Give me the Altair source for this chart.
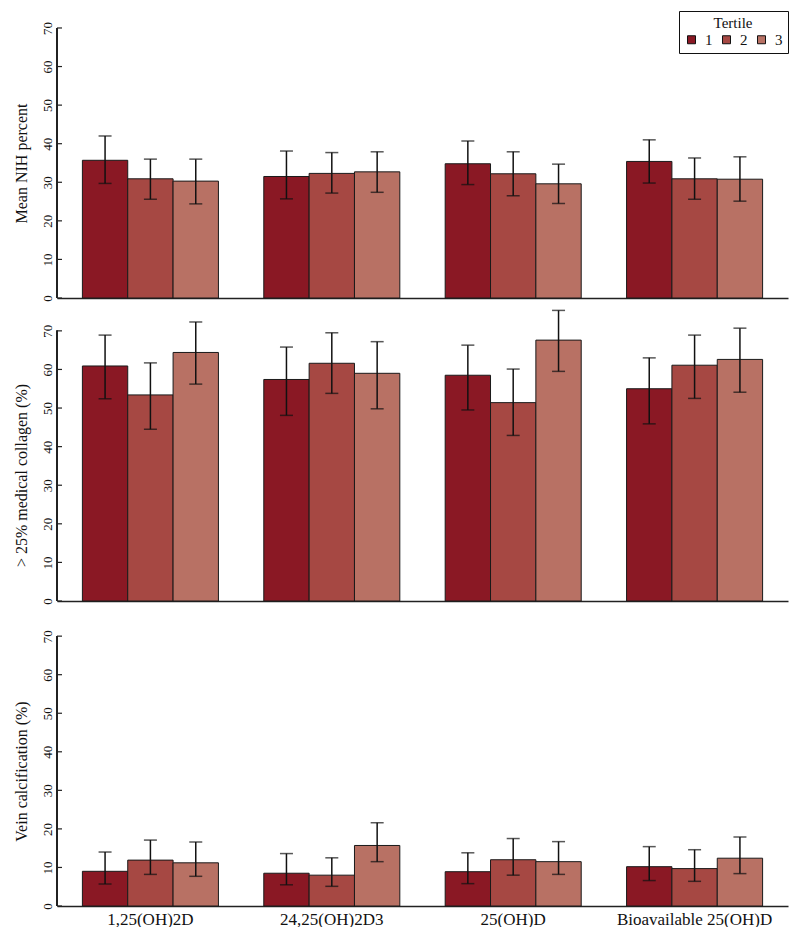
import altair as alt
import pandas as pd

groups = ["1,25(OH)2D", "24,25(OH)2D3", "25(OH)D", "Bioavailable 25(OH)D"]
tertiles = ["1", "2", "3"]
colors = ["#8A1824", "#A64843", "#B87164"]

# values in order: group-major, tertile-minor
nih_mean = [35.7, 30.9, 30.3, 31.5, 32.3, 32.7, 34.8, 32.2, 29.6, 35.4, 30.9, 30.8]
nih_lo = [29.7, 25.6, 24.4, 25.7, 27.2, 27.4, 29.4, 26.5, 24.5, 29.8, 25.6, 25.1]
nih_hi = [42.0, 36.0, 36.0, 38.1, 37.7, 37.9, 40.7, 37.9, 34.7, 41.0, 36.3, 36.6]

col_mean = [60.9, 53.4, 64.4, 57.4, 61.6, 59.0, 58.5, 51.4, 67.6, 55.0, 61.1, 62.6]
col_lo = [52.4, 44.5, 56.2, 48.1, 53.8, 49.8, 49.5, 42.9, 59.5, 45.9, 52.5, 54.1]
col_hi = [68.9, 61.7, 72.3, 65.8, 69.5, 67.2, 66.3, 60.1, 75.3, 63.0, 68.9, 70.7]

vein_mean = [9.0, 11.9, 11.2, 8.5, 8.0, 15.7, 8.9, 12.0, 11.5, 10.2, 9.7, 12.4]
vein_lo = [5.7, 8.2, 7.7, 5.5, 5.1, 11.5, 5.8, 8.0, 8.2, 6.6, 6.4, 8.4]
vein_hi = [14.0, 17.1, 16.6, 13.6, 12.5, 21.6, 13.8, 17.5, 16.7, 15.4, 14.6, 17.9]

y_ticks = [0, 10, 20, 30, 40, 50, 60, 70]

FONT = "Liberation Serif"
PPU = 270.0 / 70.0  # pixels per unit
WIDTH = 731


def make_df(mean, lo, hi):
    rows = []
    i = 0
    for g in groups:
        for t in tertiles:
            rows.append({"group": g, "tertile": t, "mean": mean[i], "lo": lo[i], "hi": hi[i]})
            i += 1
    return pd.DataFrame(rows)


def panel(mean, lo, hi, title, ymax, title_y, show_labels, legend):
    df = make_df(mean, lo, hi)
    base = alt.Chart(df)
    height = round(ymax * PPU)
    x = alt.X(
        "group:N",
        sort=groups,
        scale=alt.Scale(paddingInner=0.25, paddingOuter=0.14),
        axis=alt.Axis(
            title=None,
            labels=show_labels,
            ticks=False,
            domain=True,
            domainColor="#222",
            domainWidth=1.3,
            labelFont=FONT,
            labelFontSize=17,
            labelColor="#111",
            labelPadding=5,
            labelAngle=0,
        ),
    )
    xo = alt.XOffset("tertile:N", sort=tertiles, scale=alt.Scale(paddingInner=0, paddingOuter=0))
    ysc = alt.Scale(domain=[0, ymax], nice=False, zero=True)
    yaxis = alt.Axis(
        title=title,
        values=y_ticks,
        grid=False,
        domain=False,
        ticks=False,
        labelAngle=270,
        labelAlign="center",
        labelBaseline="alphabetic",
        labelPadding=6,
        labelFont=FONT,
        labelFontSize=13,
        labelColor="#111",
        titleFont=FONT,
        titleFontSize=16,
        titleFontWeight="normal",
        titleColor="#111",
        titlePadding=12,
        titleY=title_y,
    )
    bars = base.mark_bar(stroke="#1a1a1a", strokeWidth=1).encode(
        x=x,
        xOffset=xo,
        y=alt.Y("mean:Q", scale=ysc, axis=yaxis),
        color=alt.Color("tertile:N", scale=alt.Scale(domain=tertiles, range=colors), legend=legend),
    )
    whisk = base.mark_rule(color="#111", strokeWidth=1.5).encode(
        x=x, xOffset=xo, y=alt.Y("lo:Q", title=title), y2="hi:Q"
    )
    cap_hi = base.mark_tick(color="#111", thickness=1.5, size=13, orient="horizontal").encode(
        x=x, xOffset=xo, y=alt.Y("hi:Q", title=title)
    )
    cap_lo = base.mark_tick(color="#111", thickness=1.5, size=13, orient="horizontal").encode(
        x=x, xOffset=xo, y=alt.Y("lo:Q", title=title)
    )
    tick_df = pd.DataFrame({"v": y_ticks})
    yline = alt.Chart(tick_df).mark_rule(color="#222", strokeWidth=1.3).encode(
        x=alt.value(0), y=alt.datum(0), y2=alt.datum(70)
    )
    yticks = alt.Chart(tick_df).mark_rule(color="#222", strokeWidth=1.2).encode(
        x=alt.value(0), x2=alt.value(5), y=alt.Y("v:Q", title=title)
    )
    return alt.layer(bars, whisk, cap_hi, cap_lo, yline, yticks).properties(width=WIDTH, height=height)


legend = alt.Legend(
    title="Tertile",
    orient="top-right",
    offset=0,
    direction="horizontal",
    titleAnchor="middle",
    titleFont=FONT,
    titleFontSize=15,
    titleFontWeight="normal",
    titleColor="#111",
    titlePadding=1,
    labelFont=FONT,
    labelFontSize=15,
    labelColor="#111",
    labelOffset=6,
    columnPadding=6,
    symbolType="square",
    symbolSize=64,
    symbolStrokeColor="#111",
    symbolStrokeWidth=1,
    symbolOpacity=1,
    strokeColor="#111",
    fillColor="white",
    padding=5,
)

top = panel(nih_mean, nih_lo, nih_hi, "Mean NIH percent", 74.4, 152, False, legend)
mid = panel(col_mean, col_lo, col_hi, "> 25% medical collagen (%)", 76.7, 170, False, None)
bot = panel(vein_mean, vein_lo, vein_hi, "Vein calcification (%)", 77.3, 163, True, None)

chart = (
    alt.vconcat(top, mid, bot, spacing=7, bounds="flush")
    .resolve_scale(y="independent")
    .resolve_legend(color="independent")
    .properties(
        padding={"left": 5, "top": 2, "right": 0, "bottom": 0},
        background="white",
    )
    .configure_view(strokeWidth=0, stroke="transparent")
)

chart.save("out.html", embed_options={"renderer": "svg", "actions": False})
